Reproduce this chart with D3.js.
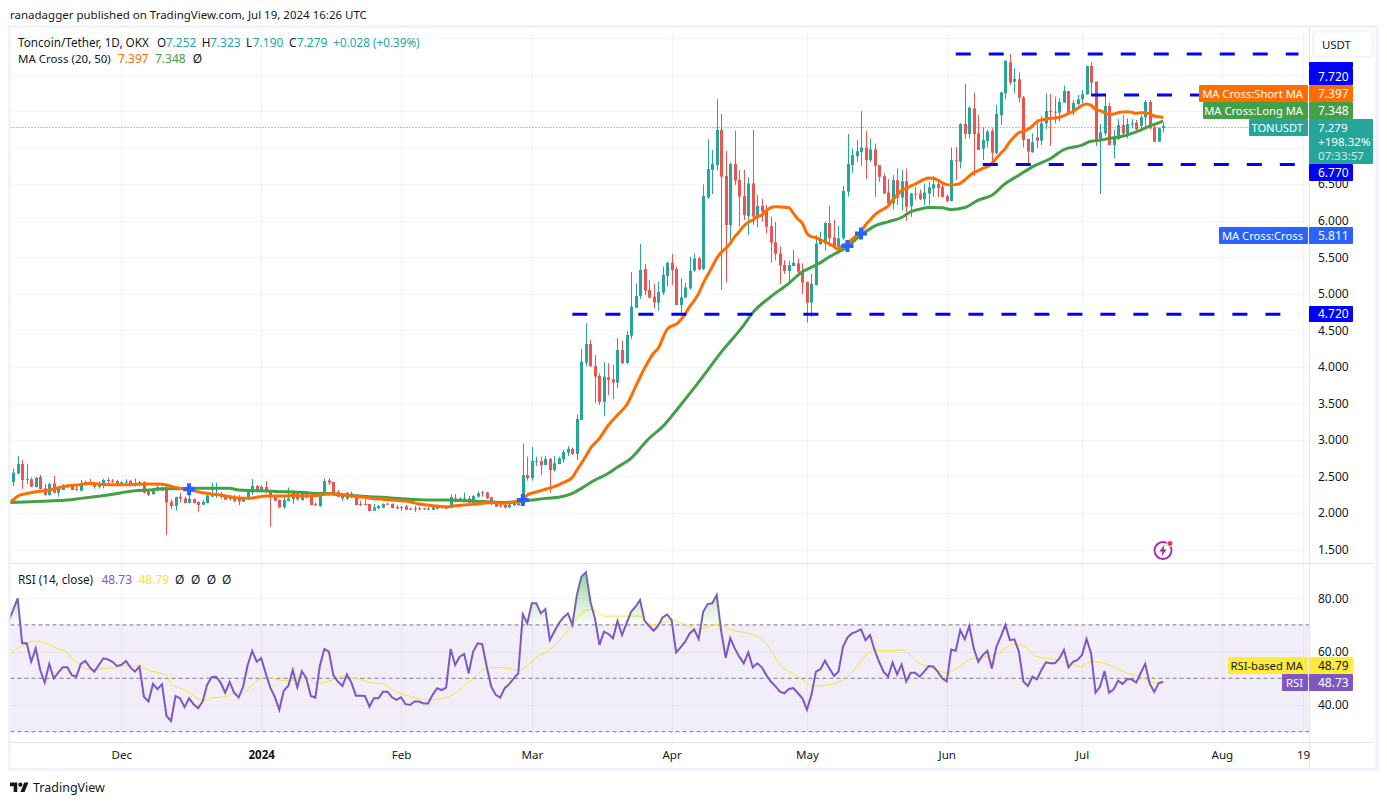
<!DOCTYPE html>
<html><head><meta charset="utf-8">
<script src="https://cdn.jsdelivr.net/npm/d3@7/dist/d3.min.js"></script>
<style>
html,body{margin:0;padding:0;background:#fff}
svg{display:block}
text{font-family:"Noto Sans",sans-serif;font-size:12px;fill:#131722}
</style></head><body>
<svg id="c" width="1387" height="805"></svg>
<script>
const firstDay = "2023-11-07";
const opens = [2.416,2.535,2.662,2.45,2.453,2.348,2.485,2.33,2.24,2.398,2.27,2.307,2.35,2.362,2.325,2.298,2.375,2.412,2.389,2.352,2.375,2.444,2.434,2.43,2.407,2.412,2.43,2.398,2.375,2.416,2.284,2.248,2.343,2.298,2.325,2.148,2.088,2.216,2.193,2.13,2.184,2.143,2.107,2.13,2.216,2.239,2.252,2.225,2.18,2.216,2.207,2.148,2.184,2.275,2.362,2.293,2.348,2.307,2.216,2.17,2.075,2.157,2.184,2.261,
2.17,2.27,2.23,2.116,2.088,2.27,2.439,2.416,2.28,2.248,2.189,2.261,2.216,2.116,2.116,2.116,2.025,2.056,2.066,2.12,2.116,2.075,2.061,2.084,2.052,2.043,2.056,2.056,2.043,2.038,2.052,2.079,2.066,2.066,2.193,2.148,2.161,2.193,2.134,2.216,2.275,2.27,2.207,2.125,2.098,2.102,2.07,2.098,2.098,2.116,
2.513,2.467,2.69,2.704,2.649,2.731,2.581,2.663,2.726,2.818,2.868,2.799,3.264,4.047,4.302,4.0,3.865,3.51,3.847,3.82,3.774,4.22,4.043,4.416,4.798,4.958,
5.327,5.04,4.949,4.867,5.003,5.231,5.413,5.327,4.835,4.94,5.063,5.304,5.472,5.327,6.306,6.679,6.747,7.226,6.597,5.928,6.761,6.542,6.324,6.05,6.497,6.019,6.187,6.124,5.914,5.691,5.54,5.381,5.299,5.368,5.404,5.29,5.149,4.867,5.108,
5.668,5.677,5.955,5.759,5.632,5.746,6.383,6.745,6.868,6.927,6.986,6.813,6.959,6.745,6.595,6.372,6.221,6.54,6.303,6.526,6.185,6.358,6.358,6.28,6.358,6.426,6.485,6.449,6.321,6.253,6.811,
6.793,7.307,7.171,7.52,7.18,6.97,7.075,7.216,6.907,7.43,7.726,8.15,7.886,7.918,7.672,7.103,6.92,7.125,7.08,7.317,7.485,7.476,7.462,7.599,7.758,7.467,7.581,7.644,7.713,8.1,7.886,7.075,7.18,7.553,7.02,7.103,7.294,7.18,7.307,7.326,7.28,7.399,7.608,7.262,7.066,7.252];
const highs = [2.603,2.771,2.717,2.662,2.48,2.489,2.512,2.385,2.407,2.498,2.352,2.389,2.389,2.366,2.375,2.444,2.434,2.457,2.398,2.425,2.462,2.48,2.457,2.444,2.425,2.453,2.444,2.466,2.434,2.425,2.298,2.33,2.398,2.352,2.38,2.18,2.216,2.27,2.216,2.239,2.189,2.157,2.17,2.239,2.407,2.407,2.28,2.239,2.239,2.239,2.239,2.207,2.316,2.457,2.375,2.375,2.43,2.307,2.239,2.18,2.207,2.343,2.307,2.293,
2.284,2.298,2.239,2.134,2.284,2.466,2.466,2.416,2.307,2.261,2.284,2.284,2.216,2.161,2.184,2.116,2.116,2.102,2.125,2.134,2.125,2.102,2.088,2.102,2.066,2.088,2.079,2.066,2.079,2.088,2.102,2.093,2.079,2.248,2.252,2.207,2.27,2.225,2.239,2.284,2.293,2.284,2.216,2.148,2.125,2.157,2.125,2.134,2.18,2.944,
2.763,2.9,2.763,2.763,2.772,2.749,2.772,2.763,2.854,2.909,2.886,3.341,4.234,4.584,4.357,4.152,3.901,4.052,4.038,4.015,4.379,4.348,4.48,5.286,5.131,5.668,
5.395,5.176,5.122,5.154,5.358,5.427,5.532,5.358,5.199,5.14,5.495,5.54,5.495,6.483,7.098,6.952,7.649,7.444,6.939,6.779,7.216,6.679,6.679,6.579,7.226,6.338,6.283,6.201,6.042,5.969,5.632,5.45,5.44,5.586,5.472,5.404,5.154,5.258,5.791,
5.837,5.973,6.187,5.996,5.914,6.461,7.171,6.973,7.087,7.483,7.209,7.109,7.041,6.745,6.631,6.554,6.608,6.699,6.677,6.699,6.367,6.449,6.413,6.495,6.517,6.595,6.55,6.485,6.344,6.986,6.995,
7.317,7.854,7.544,7.735,7.43,7.262,7.225,7.248,7.567,7.749,8.173,8.264,8.068,8.013,7.69,7.103,7.18,7.371,7.417,7.726,7.717,7.681,7.658,7.831,7.758,7.635,7.704,7.772,8.1,8.15,7.886,7.307,7.704,7.599,7.225,7.376,7.43,7.385,7.376,7.362,7.43,7.635,7.635,7.307,7.257,7.323];
const lows = [2.362,2.521,2.325,2.389,2.348,2.339,2.32,2.23,2.23,2.26,2.216,2.307,2.33,2.307,2.298,2.293,2.366,2.375,2.325,2.325,2.33,2.398,2.398,2.375,2.389,2.407,2.371,2.352,2.362,2.26,2.225,2.248,2.298,2.293,1.692,2.047,2.025,2.134,2.125,2.125,2.125,2.011,2.102,2.125,2.216,2.2,2.193,2.17,2.161,2.138,2.102,2.143,2.18,2.239,2.27,2.284,2.261,1.806,2.152,2.056,2.052,2.152,2.12,2.161,
2.161,2.193,2.102,2.088,2.079,2.261,2.375,2.261,2.207,2.161,2.17,2.193,2.102,2.088,2.102,2.02,2.02,2.043,2.056,2.102,2.056,2.043,2.025,2.034,2.034,2.006,2.034,2.034,2.034,2.034,2.047,2.052,2.047,2.056,2.138,2.143,2.157,2.125,2.125,2.207,2.216,2.184,2.102,2.079,2.066,2.056,2.066,2.088,2.093,2.102,
2.435,2.435,2.635,2.513,2.649,2.271,2.558,2.658,2.681,2.772,2.786,2.717,3.264,3.998,3.99,3.5,3.469,3.323,3.605,3.546,3.696,4.029,4.029,4.37,4.789,4.917,
4.972,4.926,4.79,4.758,4.972,5.085,5.108,4.835,4.72,4.926,5.04,5.29,5.313,5.313,6.283,6.351,6.67,5.04,5.14,5.70,6.474,5.905,5.996,5.791,5.928,5.896,5.973,5.814,5.413,5.45,5.122,5.258,5.131,5.368,5.222,4.985,4.594,4.675,5.099,
5.655,5.577,5.632,5.609,5.586,5.723,6.315,6.64,6.791,6.736,6.554,6.791,6.312,6.517,6.349,6.212,6.139,6.2,6.13,5.985,6.039,6.276,6.267,6.199,6.199,6.312,6.312,6.303,6.244,6.253,6.54,
6.702,7.103,7.107,6.6,6.952,6.816,6.989,6.77,6.898,7.294,7.644,7.84,7.726,7.599,6.989,6.747,6.916,6.975,7.02,7.235,7.007,7.317,7.339,7.599,7.444,7.43,7.567,7.59,7.704,7.726,7.007,6.351,7.148,7.02,6.838,7.089,7.157,7.112,7.248,7.203,7.235,7.262,7.235,7.066,7.066,7.19];
const closes = [2.544,2.662,2.444,2.46,2.352,2.471,2.32,2.24,2.39,2.27,2.33,2.375,2.366,2.307,2.307,2.389,2.412,2.398,2.352,2.389,2.444,2.434,2.42,2.384,2.416,2.42,2.384,2.384,2.412,2.27,2.239,2.33,2.298,2.339,2.134,2.088,2.211,2.189,2.13,2.189,2.13,2.102,2.143,2.23,2.261,2.257,2.216,2.175,2.225,2.157,2.152,2.193,2.284,2.362,2.293,2.348,2.284,2.207,2.161,2.07,2.17,2.193,2.284,2.18,
2.27,2.216,2.102,2.102,2.275,2.43,2.407,2.261,2.216,2.193,2.27,2.207,2.102,2.102,2.107,2.02,2.07,2.088,2.116,2.107,2.061,2.056,2.075,2.038,2.043,2.056,2.043,2.043,2.052,2.07,2.084,2.061,2.056,2.211,2.148,2.193,2.193,2.134,2.225,2.261,2.27,2.193,2.116,2.079,2.084,2.066,2.107,2.12,2.125,2.512,
2.467,2.704,2.704,2.649,2.731,2.581,2.672,2.74,2.827,2.868,2.799,3.277,4.061,4.302,3.998,3.856,3.51,3.856,3.81,3.774,4.22,4.038,4.425,4.812,4.958,5.313,
5.03,4.935,4.867,5.012,5.245,5.413,5.313,4.835,4.94,5.076,5.299,5.472,5.322,6.324,6.693,6.761,7.226,6.588,5.928,6.761,6.533,6.315,6.064,6.497,6.042,6.187,6.11,5.905,5.686,5.532,5.372,5.299,5.381,5.413,5.29,5.14,4.867,5.122,5.677,
5.732,5.955,5.746,5.632,5.746,6.392,6.761,6.882,6.936,6.986,6.813,6.959,6.736,6.586,6.358,6.221,6.54,6.303,6.526,6.176,6.358,6.353,6.28,6.372,6.44,6.485,6.431,6.312,6.253,6.813,6.802,
7.307,7.171,7.531,7.17,6.952,7.089,7.203,6.916,7.444,7.74,8.173,7.872,7.922,7.667,7.089,6.93,7.057,7.08,7.317,7.485,7.471,7.467,7.608,7.758,7.444,7.594,7.644,7.713,8.1,7.872,7.075,7.194,7.553,7.02,7.103,7.294,7.18,7.307,7.316,7.235,7.399,7.608,7.248,7.066,7.248,7.279];

const shortMaDays = [-1,0,1,3,5,8,11,14,17,20,23,26,29,32,34,36,38,40,42,44,46,48,50,52,54,56,58,60,62,64,66,68,70,72,74,76,78,80,82,84,86,88,90,92,94,96,98,100,102,104,106,108,110,112,113,114,116,118,120,122,124,125,126,127,128,130,132,134,136,138,140,142,143,145,146,147,148,149,150,151,152,153,154,155,156,157,158,159,160,161,162,163,164,165,166,167,168,169,170,171,172,173,174,175,176,177,178,179,180,181,182,183,184,185,186,187,188,189,190,191,192,193,194,195,196,197,198,199,200,201,202,203,204,205,206,207,208,209,210,211,212,213,214,215,216,217,218,219,220,221,222,223,224,225,226,227,228,229,230,231,232,233,234,235,236,237,238,239,240,241,242,243,244,245,246,247,248,249,250,251,252,253,254,255];
const shortMa = [2.14,2.17,2.225,2.26,2.284,2.307,2.352,2.375,2.398,2.384,2.38,2.38,2.389,2.389,2.375,2.343,2.32,2.298,2.27,2.252,2.239,2.216,2.198,2.193,2.207,2.225,2.225,2.225,2.234,2.225,2.225,2.239,2.252,2.248,2.239,2.216,2.207,2.189,2.18,2.17,2.161,2.148,2.116,2.102,2.088,2.079,2.093,2.102,2.111,2.125,2.138,2.125,2.134,2.152,2.161,2.239,2.28,2.317,2.353,2.408,2.481,2.581,2.672,2.772,2.877,3.013,3.195,3.332,3.469,3.719,3.97,4.175,4.243,4.502,4.548,4.57,4.63,4.712,4.812,4.894,4.994,5.131,5.245,5.358,5.472,5.554,5.609,5.677,5.768,5.837,5.914,5.964,5.996,6.042,6.064,6.124,6.165,6.178,6.174,6.169,6.165,6.087,6.01,5.95,5.814,5.768,5.755,5.723,5.70,5.668,5.632,5.595,5.655,5.677,5.732,5.782,5.836,5.928,5.996,6.064,6.11,6.146,6.187,6.269,6.338,6.397,6.429,6.46,6.488,6.52,6.552,6.57,6.565,6.542,6.506,6.479,6.474,6.479,6.497,6.542,6.597,6.643,6.67,6.702,6.725,6.77,6.838,6.907,6.975,7.066,7.134,7.189,7.203,7.235,7.28,7.339,7.362,7.376,7.385,7.39,7.399,7.421,7.453,7.476,7.521,7.562,7.581,7.562,7.508,7.49,7.462,7.435,7.444,7.462,7.471,7.476,7.467,7.453,7.462,7.462,7.444,7.417,7.405,7.397];
const longMaDays = [-1,4,8,12,15,18,21,24,27,30,33,36,39,42,45,48,50,53,56,59,62,64,67,70,73,76,79,82,85,88,91,94,97,100,103,106,109,112,115,118,121,124,126,129,132,134,137,140,141,144,148,152,157,162,164,168,172,175,177,179,181,183,185,187,189,191,194,197,199,201,203,206,208,211,214,217,220,223,226,230,233,237,239,240,243,246,249,252,255];
const longMa = [2.136,2.148,2.157,2.17,2.193,2.216,2.239,2.27,2.298,2.307,2.325,2.325,2.33,2.33,2.33,2.33,2.307,2.298,2.293,2.284,2.28,2.275,2.261,2.261,2.239,2.23,2.216,2.207,2.193,2.18,2.17,2.17,2.17,2.161,2.152,2.143,2.138,2.148,2.17,2.193,2.207,2.261,2.33,2.444,2.535,2.62,2.74,2.945,3.01,3.173,3.469,3.78,4.19,4.56,4.73,4.949,5.131,5.29,5.35,5.413,5.493,5.561,5.629,5.743,5.834,5.912,5.971,6.03,6.108,6.144,6.167,6.162,6.139,6.167,6.267,6.335,6.494,6.608,6.722,6.836,6.959,7.018,7.073,7.077,7.109,7.141,7.2,7.278,7.348];

const rsiFirstDay = -1;
const rsi = [71.4,75.6,79.9,63.1,63.1,56.2,61.2,53.1,48.4,55.4,50,52.1,54.1,54.1,51.2,50.6,55.4,56.5,54.1,52.5,55,57.5,57.1,56.2,54.6,55,56.5,54.1,52.5,54.4,43.1,41.3,47.9,45.9,47.8,35.9,34,43.4,42.5,39.2,42.5,40.3,38.8,41.3,47.5,50.4,50.6,48.4,44.6,48.6,44.6,42.8,46.9,55,60.3,56.2,57.5,51.9,46.6,43.1,38.2,45.3,47.1,53.1,46.6,52.7,50,43.4,42.8,54.6,61,60,51.2,48.8,47.1,51.5,48.4,43.5,43.5,43.4,39.4,42.5,42.5,45,45,42.9,41.9,42.9,40.3,40,41.3,41.3,40.6,40.6,43.8,46.3,45.6,46.5,61,55,58.1,59.1,51.9,60,63.1,62.8,54.4,46.9,43.8,42.8,46.3,47.8,50,51.9,73.9,70.6,78.1,78.1,74.3,75.9,64.3,67.5,70.6,72.8,74.3,70,81.2,88,89.7,78.7,72.4,62.5,67.5,66.6,65,71.4,66.2,70.6,74.9,76.8,79.3,71.6,69.6,67.8,69.6,72.8,73.9,71.8,59.7,61.6,63.7,66.8,68.3,64.7,74.9,77.8,78.1,81.2,67.5,57.7,65,61.2,58.1,55.6,59.7,54.1,55.6,54.1,51.2,48.8,47.1,45,44.4,46,46.3,44.4,42.5,38.2,43.8,52.5,53.4,56.6,53.7,50.9,52.5,61.8,65.3,66.8,67.5,68.3,64.3,66.2,60.6,56.2,52.5,50.6,55.9,51.5,55.2,48.8,52.1,52.1,50.6,52.5,54.6,54.4,52.5,50,48.8,60.8,60.3,68.1,64.6,69.6,61.2,56.2,58.7,60.3,53.7,61.8,65.6,70,64.3,64.6,60,48.8,47.1,50.6,49.6,53.1,56,55.6,55.6,57.5,60.6,54.1,56.2,56.9,58.7,64.7,59.4,44.6,46.9,52.7,44.6,45.9,49.1,47.9,49.6,49.6,48.4,51.9,55.4,48.1,44.9,48.1,48.73];
const rsiMaDays = [-1,1,2,5,6,8,10,12,13,15,16,18,20,23,25,28,30,32,34,35,38,40,42,44,47,49,51,53,56,57,60,62,64,66,67,70,73,76,79,82,85,87,90,92,96,99,102,105,107,110,112,114,116,119,122,124,126,128,130,131,135,139,140,142,146,149,152,156,159,162,166,168,170,173,176,177,182,185,187,191,194,197,201,204,207,212,218,222,224,227,231,234,237,239,242,247,250,253,255];
const rsiMa = [58.5,61.2,62.1,64,63.7,62.6,61,59.7,57.5,55,53.7,53.1,53.7,54,54.7,54.6,53.1,52.1,51.2,48.1,45.6,43.5,41.6,42.6,43.1,44.4,44.4,47.5,50.4,50.1,49.1,49.1,50.4,49.4,48.1,48.9,50.6,50,48.4,47.9,44.8,43.8,42.3,41.9,42.8,45.6,50,53.7,54,53.7,53.1,54.6,57.9,60.8,65.8,70,74.3,75.8,74.3,73.3,73.3,73.3,71.2,70,71.6,70.2,68.3,70.3,68.1,67.2,64.7,60.6,55,51.6,48.4,47.1,47.9,50.6,54.4,60.6,60.3,60.6,55.6,53.7,52.1,56.9,59,62.8,62.1,58.1,57.1,55.6,54.4,56.2,55.6,51.9,50.6,48.4,48.79];

const levels = [8.28,7.72,6.77,4.72];
const levelStart = ["2024-06-03","2024-07-03","2024-06-09","2024-03-10"];
const levelEnd = "2024-08-18";
const crossDays = [39,113,185,188];
const crossValues = [2.317,2.17,5.64,5.811];
const priceTicks = [1.5,2,2.5,3,3.5,4,4.5,5,5.5,6,6.5];
const priceGrid = [1.5,2,2.5,3,3.5,4,4.5,5,5.5,6,6.5,7,7.5,8,8.5];
const rsiTicks = [40,60,80];
const rsiBands = [70,50,30];
const timeTicks = ["2023-12-01","2024-01-01","2024-02-01","2024-03-01","2024-04-01","2024-05-01","2024-06-01","2024-07-01","2024-08-01","2024-08-19"];
const timeLabels = ["Dec","2024","Feb","Mar","Apr","May","Jun","Jul","Aug","19"];

const UP="#26a69a",DOWN="#ef5350",ORANGE="#ff6d00",GREEN="#43a047",BLUE="#0000ff",CROSS="#2962ff",PURPLE="#7e57c2",YEL="#ffeb3b",RMA="#fbe134",GRID="#f0f3fa",EDGE="#e0e3eb",TEXT="#131722";
const L=10.5,R=1309,T=29,MB=563,RB=742,B=769;

const svg=d3.select("#c");
const day0=new Date(firstDay+"T00:00:00Z");
const dateOf=i=>day0.getTime()+i*864e5;
const x=d3.scaleUtc().domain([day0,new Date(dateOf(255))]).range([13.16,1163.2]);
const xi=i=>x(new Date(dateOf(i)));
// y: price axis, grid and level lines. yBars: the bar and MA readings were taken on a slightly different pixel calibration.
const y=d3.scaleLinear().domain([2,7]).range([513,147.6]);
const yBars=d3.scaleLinear().domain([2,7]).range([512.5,146.5]);
const yr=d3.scaleLinear().domain([30,70]).range([731.7,624.9]);

// frame
svg.append("rect").attr("x",L-1).attr("y",T-2.5).attr("width",1378-L).attr("height",B-T+3).attr("fill","#fff").attr("stroke",GRID).attr("stroke-width",3);
const defs=svg.append("defs");
defs.append("clipPath").attr("id","mp").append("rect").attr("x",L).attr("y",T).attr("width",R-L).attr("height",MB-T);
defs.append("clipPath").attr("id","rp").append("rect").attr("x",L).attr("y",MB).attr("width",R-L).attr("height",RB-MB);
defs.append("clipPath").attr("id","ob").append("rect").attr("x",L).attr("y",MB).attr("width",R-L).attr("height",yr(70)-MB);
const gr=defs.append("linearGradient").attr("id","gg").attr("gradientUnits","userSpaceOnUse").attr("x1",0).attr("x2",0).attr("y1",yr(90)).attr("y2",yr(70));
gr.append("stop").attr("offset",0).attr("stop-color","#4caf50").attr("stop-opacity",.55);
gr.append("stop").attr("offset",1).attr("stop-color","#4caf50").attr("stop-opacity",.03);

// grids
const gridG=svg.append("g");
gridG.selectAll(".h").data(priceGrid).join("line").attr("class","h").attr("x1",L).attr("x2",R).attr("y1",d=>Math.round(y(d))+.5).attr("y2",d=>Math.round(y(d))+.5).attr("stroke",GRID);
gridG.selectAll(".h2").data([80,60,40]).join("line").attr("class","h2").attr("x1",L).attr("x2",R).attr("y1",d=>Math.round(yr(d))+.5).attr("y2",d=>Math.round(yr(d))+.5).attr("stroke",GRID);
const tickDates=timeTicks.map(d=>new Date(d+"T00:00:00Z"));
gridG.selectAll(".v").data(tickDates).join("line").attr("class","v").attr("x1",d=>Math.round(x(d))+.5).attr("x2",d=>Math.round(x(d))+.5).attr("y1",T).attr("y2",RB).attr("stroke",GRID);

// separators
[[L,R+64,MB,MB],[L,R+64,RB,RB]].forEach(a=>svg.append("line").attr("x1",a[0]).attr("x2",a[1]).attr("y1",a[2]+.5).attr("y2",a[3]+.5).attr("stroke",EDGE));
svg.append("line").attr("x1",R+.5).attr("x2",R+.5).attr("y1",T-1).attr("y2",B).attr("stroke",EDGE);

// price pane
const main=svg.append("g").attr("clip-path","url(#mp)");
const lastY=Math.floor(y(closes[255]))+.5;
main.append("line").attr("x1",L).attr("x2",1248).attr("y1",lastY).attr("y2",lastY).attr("stroke",UP).attr("stroke-dasharray","1 2");
const idx=d3.range(closes.length);
main.append("g").selectAll("line").data(idx).join("line")
 .attr("x1",i=>Math.round(xi(i))+.5).attr("x2",i=>Math.round(xi(i))+.5)
 .attr("y1",i=>yBars(highs[i])).attr("y2",i=>yBars(lows[i]))
 .attr("stroke",i=>closes[i]>=opens[i]?UP:DOWN);
main.append("g").selectAll("rect").data(idx).join("rect")
 .attr("x",i=>Math.round(xi(i))-1).attr("width",3)
 .attr("y",i=>yBars(Math.max(opens[i],closes[i])))
 .attr("height",i=>Math.max(1,Math.abs(yBars(opens[i])-yBars(closes[i]))))
 .attr("fill",i=>closes[i]>=opens[i]?UP:DOWN);
const lineOf=(days,vals,sc)=>d3.line().x((d,k)=>xi(days[k])).y(d=>sc(d)).curve(d3.curveMonotoneX)(vals);
main.append("path").attr("d",lineOf(longMaDays,longMa,yBars)).attr("fill","none").attr("stroke",GREEN).attr("stroke-width",3);
main.append("path").attr("d",lineOf(shortMaDays,shortMa,yBars)).attr("fill","none").attr("stroke",ORANGE).attr("stroke-width",3);
levels.forEach((v,k)=>{
 main.append("line").attr("x1",x(new Date(levelStart[k]+"T00:00:00Z"))).attr("x2",x(new Date(levelEnd+"T00:00:00Z")))
  .attr("y1",y(v)).attr("y2",y(v)).attr("stroke",BLUE).attr("stroke-width",3).attr("stroke-dasharray","15 18");
});
main.append("g").selectAll("path").data(crossDays).join("path").attr("d",d3.symbol(d3.symbolCross,80))
 .attr("transform",(d,k)=>`translate(${xi(d)},${yBars(crossValues[k])})`).attr("fill",CROSS);

// RSI pane
const rp=svg.append("g").attr("clip-path","url(#rp)");
rp.append("rect").attr("x",L).attr("width",R-L).attr("y",yr(70)).attr("height",yr(30)-yr(70)).attr("fill",PURPLE).attr("opacity",.1);
rsiBands.forEach(v=>rp.append("line").attr("x1",L).attr("x2",R).attr("y1",yr(v)).attr("y2",yr(v)).attr("stroke","#787b86").attr("stroke-dasharray","4 3"));
const rx=(d,k)=>xi(k+rsiFirstDay);
svg.append("path").attr("clip-path","url(#ob)").attr("fill","url(#gg)")
 .attr("d",d3.area().x(rx).y0(yr(70)).y1(d=>yr(d))(rsi));
rp.append("path").attr("d",lineOf(rsiMaDays,rsiMa,yr)).attr("fill","none").attr("stroke",RMA).attr("stroke-width",1);
rp.append("path").attr("d",d3.line().x(rx).y(d=>yr(d))(rsi)).attr("fill","none").attr("stroke",PURPLE).attr("stroke-width",2);

// axes
const fmtPrice=d3.format(".3f"),fmtRsi=d3.format(".2f");
const ax=svg.append("g").attr("transform",`translate(${R},0)`).call(d3.axisRight(y).tickValues(priceTicks).tickFormat(fmtPrice).tickSize(0).tickPadding(9));
const ar=svg.append("g").attr("transform",`translate(${R},0)`).call(d3.axisRight(yr).tickValues(rsiTicks).tickFormat(fmtRsi).tickSize(0).tickPadding(9));
const at=svg.append("g").attr("transform",`translate(0,${RB})`).call(d3.axisBottom(x).tickValues(tickDates).tickFormat((d,k)=>timeLabels[k]).tickSize(0).tickPadding(9));
[ax,ar,at].forEach(g=>{g.select(".domain").remove();g.selectAll("text").style("font-family",'"Noto Sans",sans-serif').style("font-size","12px").style("fill",TEXT);});
at.selectAll("text").style("font-size","11.6px").filter((d,k)=>timeLabels[k]==="2024").style("font-weight",700);

// USDT button
svg.append("rect").attr("x",1313).attr("y",31.5).attr("width",60).attr("height",25).attr("rx",4).attr("fill","#fff").attr("stroke",GRID).attr("stroke-width",2);
svg.append("text").attr("x",1322).attr("y",49).style("font-size","11.4px").text("USDT");

// price labels
function box(x0,x1,y0,y1,fill,txt,col,tx,anchor){
 svg.append("rect").attr("x",x0).attr("y",y0).attr("width",x1-x0).attr("height",y1-y0).attr("fill",fill).attr("rx",1);
 if(txt)svg.append("text").attr("x",tx).attr("y",y0+(y1-y0)/2+4.2).attr("text-anchor",anchor||"start").style("fill",col).style("font-size",anchor?"11.2px":"12px").text(txt);
}
box(1309,1353,62,68,BLUE);
box(1309,1353,68,85,BLUE,"7.720","#fff",1318);
box(1199,1308,85,102,ORANGE,"MA Cross:Short MA","#fff",1303,"end");
box(1309,1353,85,102,ORANGE,"7.397","#fff",1318);
box(1203,1308,102,119,GREEN,"MA Cross:Long MA","#fff",1303,"end");
box(1309,1353,102,119,GREEN,"7.348","#fff",1318);
box(1249,1308,119,136,UP,"TONUSDT","#fff",1303,"end");
box(1309,1373,119,164,UP);
[["7.279",132,"#fff"],["+198.32%",146,"#fff"],["07:33:57",160,"#cdeae6"]].forEach(t=>svg.append("text").attr("x",1318).attr("y",t[1]).style("fill",t[2]).style("font-size","11.6px").text(t[0]));
box(1309,1353,164,181,BLUE,"6.770","#fff",1318);
box(1219,1308,227,244,CROSS,"MA Cross:Cross","#fff",1303,"end");
box(1309,1353,227,244,CROSS,"5.811","#fff",1318);
box(1309,1353,306,322,BLUE,"4.720","#fff",1318);
box(1228,1308,657,674,YEL,"RSI-based MA",TEXT,1303,"end");
box(1309,1353,657,674,YEL,"48.79",TEXT,1318);
box(1282,1308,674,691,PURPLE,"RSI","#fff",1303,"end");
box(1309,1353,674,691,PURPLE,"48.73","#fff",1318);

// legends
function txt(px,py,s,col,fs){svg.append("text").attr("x",px).attr("y",py).style("fill",col||TEXT).style("font-size",fs||"12px").text(s);}
txt(10,19,"ranadagger published on TradingView.com, Jul 19, 2024 16:26 UTC",TEXT,"11.5px");
txt(18,46.5,"Toncoin/Tether, 1D, OKX",TEXT,"11.7px");
[["O",157,"7.252",165.7],["H",201.7,"7.323",210],["L",246,"7.190",252.7],["C",289,"7.279",296.7]].forEach(a=>{txt(a[1],46.5,a[0],TEXT,"11.7px");txt(a[3],46.5,a[2],UP);});
txt(333.3,46.5,"+0.028",UP,"11.7px");txt(373,46.5,"(+0.39%)",UP,"11.7px");
txt(18,63,"MA Cross (20, 50)",TEXT,"11.5px");txt(118,63,"7.397",ORANGE);txt(155,63,"7.348",GREEN);txt(192.7,63,"Ø");
txt(18,583.5,"RSI (14, close)",TEXT,"11.7px");txt(101.4,583.5,"48.73",PURPLE);txt(138.5,583.5,"48.79",RMA);
[175,191,206.7,222].forEach(p=>txt(p,583.5,"Ø"));

// lightning icon
const ic=svg.append("g").attr("transform","translate(1163,550.5)");
ic.append("circle").attr("r",8.5).attr("fill","#fff").attr("stroke","#9c27b0").attr("stroke-width",1.8);
ic.append("path").attr("d","M1.5,-6 L-3.5,1 L-0.5,1 L-1.5,6 L3.5,-1 L0.5,-1 Z").attr("fill","#9c27b0");
ic.append("circle").attr("cx",7).attr("cy",-7).attr("r",3).attr("fill","#f23645").attr("stroke","#fff");

// footer logo
const lg=svg.append("g").attr("transform","translate(10,780.5) scale(.52)").attr("fill","#131722");
lg.append("path").attr("d","M14 22H7V11H0V4h14v18zM28 22h-8l7.5-18h8L28 22z");
lg.append("circle").attr("cx",20).attr("cy",8).attr("r",4);
svg.append("text").attr("x",33).attr("y",792).style("font-size","12.5px").style("fill","#131722").text("TradingView");
</script></body></html>
